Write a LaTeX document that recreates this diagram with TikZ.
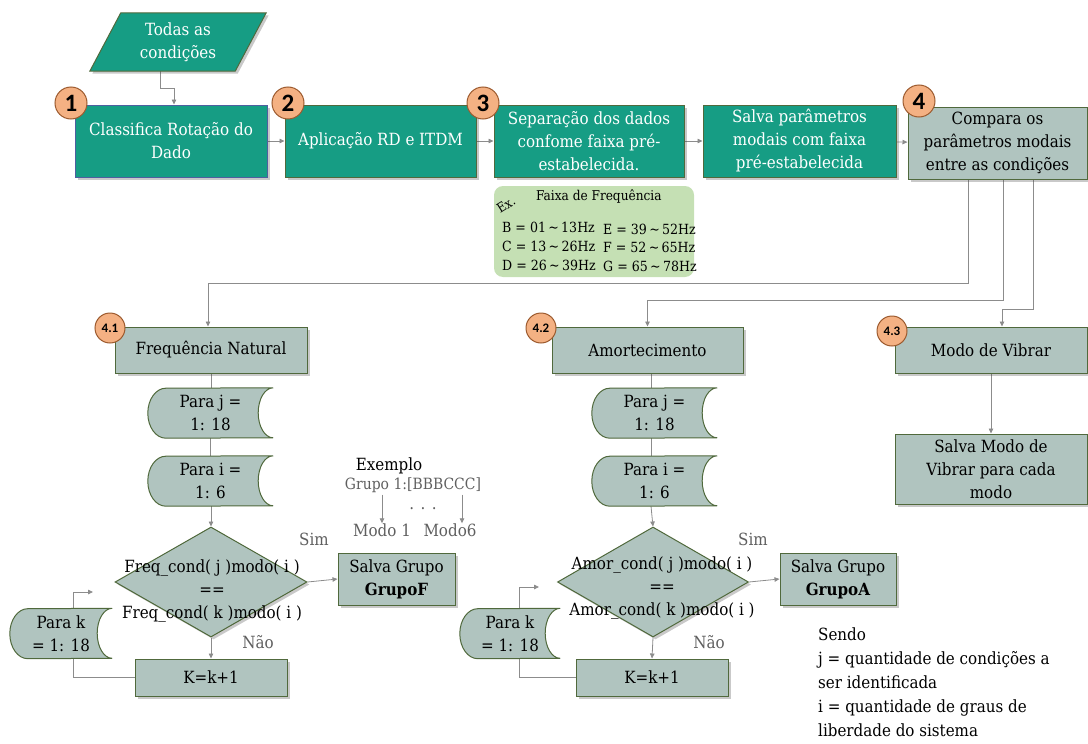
\documentclass[tikz,border=0pt]{standalone}
\usepackage{fontspec}
\setmainfont{DejaVu Serif Condensed}
\newfontfamily\numfont{Carlito}
\usetikzlibrary{shapes.geometric,arrows.meta,shadows}

\definecolor{tealfill}{HTML}{169D84}
\definecolor{grayfill}{HTML}{B0C4BF}
\definecolor{olivedge}{HTML}{50693C}
\definecolor{blueedge}{HTML}{4F5FA0}
\definecolor{orangefill}{HTML}{F4B183}
\definecolor{orangeedge}{HTML}{9C5A2E}
\definecolor{exgreen}{HTML}{C5E0B4}
\definecolor{linegray}{HTML}{8C8C8C}
\definecolor{labelgray}{HTML}{5F5F5F}

\newcommand\bodysize{\fontsize{16.8}{23}\selectfont}
\newcommand\smallsize{\fontsize{14}{16}\selectfont}
\newcommand\range[2]{#1\,\textasciitilde\,#2}

\pgfdeclarelayer{lines}
\pgfdeclarelayer{shapes}
\pgfsetlayers{lines,shapes,main}

% outline of a "stored data" symbol drawn around a named node
\newcommand\loopoutline[1]{%
  \path[loopfill] ([xshift=18pt]#1.south west)
    arc[start angle=270,end angle=90,x radius=18pt,y radius=25pt]
    -- (#1.north east)
    arc[start angle=90,end angle=270,x radius=15pt,y radius=25pt]
    -- cycle;}

\begin{document}
\begin{tikzpicture}[x=1pt,y=-1pt,
  conn/.style={draw=linegray, line width=0.8pt},
  arr/.style={conn, -{Triangle[length=5pt,width=4.5pt]}},
  boxshadow/.style={drop shadow={shadow xshift=2.5pt, shadow yshift=-2.5pt, opacity=0.3, fill=black!70}},
  tealbox/.style={rectangle, fill=tealfill, draw=olivedge, line width=1pt, text=white,
    align=center, inner sep=0pt, font=\bodysize, boxshadow},
  graybox/.style={rectangle, fill=grayfill, draw=olivedge, line width=1pt, text=black,
    align=center, inner sep=0pt, font=\bodysize, boxshadow},
  numball/.style={circle, fill=orangefill, draw=orangeedge, line width=1pt, minimum size=32pt,
    inner sep=0pt, text=black, font=\numfont\bfseries\fontsize{25}{25}\selectfont},
  subball/.style={numball, minimum size=30pt, font=\numfont\bfseries\fontsize{13}{13}\selectfont},
  loopnode/.style={rectangle, inner sep=0pt, minimum height=50pt, align=center, font=\bodysize},
  loopfill/.style={fill=grayfill, draw=olivedge, line width=1pt},
  decision/.style={diamond, fill=grayfill, draw=olivedge, line width=1pt, inner sep=0pt, boxshadow},
  plain/.style={font=\bodysize, align=center, inner sep=0pt},
  graytext/.style={plain, text=labelgray},
  extext/.style={font=\smallsize, inner sep=0pt, anchor=west},
]
\useasboundingbox (0,0) rectangle (1088,744);

% ---------- top row ----------
\node[plain, text=white, minimum width=176pt, minimum height=58pt] (in) at (178,42) {Todas as\\condições};
\begin{pgfonlayer}{shapes}
  \path[fill=tealfill, draw=olivedge, line width=1pt, boxshadow]
    (in.south west) -- ([xshift=31pt]in.north west) -- (in.north east)
    -- ([xshift=-31pt]in.south east) -- cycle;
\end{pgfonlayer}

\node[tealbox, draw=blueedge, minimum width=192pt, minimum height=72pt] (b1) at (171,141) {Classifica Rotação do\\Dado};
\node[tealbox, minimum width=191pt, minimum height=72pt] (b2) at (380.5,141) {Aplicação RD e ITDM};
\node[tealbox, minimum width=190pt, minimum height=72pt] (b3) at (589,141) {Separação dos dados\\confome faixa pré-\\estabelecida.};
\node[tealbox, minimum width=193pt, minimum height=72pt] (b4) at (799.5,141) {Salva parâmetros\\modais com faixa\\pré-estabelecida};
\node[graybox, minimum width=179pt, minimum height=72pt] (b5) at (997.5,143) {Compara os\\parâmetros modais\\entre as condições};

\node[numball] (n1) at (71,103) {1};
\node[numball] (n2) at (288,103) {2};
\node[numball] (n3) at (483,103) {3};
\node[numball] (n4) at (919,101) {4};

% frequency band example
\node[rectangle, rounded corners=9pt, fill=exgreen, minimum width=200pt, minimum height=91pt] (ex) at (594,231.5) {};
\node[font=\fontsize{13}{13}\selectfont, rotate=32, inner sep=0pt] (exl) at (506,205) {Ex.};
\node[extext, font=\fontsize{13.5}{15}\selectfont] (exh) at (536,197) {Faixa de Frequência};
\node[extext] (fb) at (502,227) {B = \range{01}{13Hz}};
\node[extext] (fc) at (502,246) {C = \range{13}{26Hz}};
\node[extext] (fd) at (502,265) {D = \range{26}{39Hz}};
\node[extext] (fe) at (603,229) {E = \range{39}{52Hz}};
\node[extext] (ff) at (603,247) {F = \range{52}{65Hz}};
\node[extext] (fg) at (603,266) {G = \range{65}{78Hz}};

% ---------- column 4.1 ----------
\node[graybox, minimum width=192pt, minimum height=46pt] (fn) at (211,350) {Frequência Natural};
\node[subball] (n41) at (110,328) {4.1};
\node[loopnode, minimum width=125pt] (pj1) at (210.5,413) {Para j =\\1: 18};
\node[loopnode, minimum width=125pt] (pi1) at (210.5,481) {Para i =\\1: 6};
\node[decision, minimum width=192pt, minimum height=110pt] (d1) at (211,582) {};
\node[plain] (d1t) at (212,591) {Freq\_cond( j )modo( i )\\==\\Freq\_cond( k )modo( i )};
\node[graybox, minimum width=117pt, minimum height=52pt] (sg1) at (396.5,579) {Salva Grupo\\\textbf{GrupoF}};
\node[graybox, minimum width=152pt, minimum height=37pt] (k1) at (211,677.5) {K=k+1};
\node[loopnode, minimum width=102pt] (pk1) at (61,633.5) {Para k\\= 1: 18};
\node[graytext] (sim1) at (314,539) {Sim};
\node[graytext] (nao1) at (258,642) {Não};

% grouping example
\node[plain] (exm) at (389,466) {Exemplo};
\node[graytext, font=\fontsize{15.5}{18}\selectfont] (grp) at (413,485) {Grupo 1:[BBBCCC]};
\node[graytext] (dots) at (423,509) {. . .};
\node[graytext] (m1) at (382,530) {Modo 1};
\node[graytext] (m6) at (450,530) {Modo6};

% ---------- column 4.2 ----------
\node[graybox, minimum width=191pt, minimum height=46pt] (am) at (647.5,350) {Amortecimento};
\node[subball] (n42) at (541,328) {4.2};
\node[loopnode, minimum width=125pt] (pj2) at (654.5,413) {Para j =\\1: 18};
\node[loopnode, minimum width=125pt] (pi2) at (654.5,481) {Para i =\\1: 6};
\node[decision, minimum width=191pt, minimum height=110pt] (d2) at (653,582) {};
\node[plain] (d2t) at (662,588) {Amor\_cond( j )modo( i )\\==\\Amor\_cond( k )modo( i )};
\node[graybox, minimum width=116pt, minimum height=52pt] (sg2) at (838,579) {Salva Grupo\\\textbf{GrupoA}};
\node[graybox, minimum width=152pt, minimum height=37pt] (k2) at (652,677.5) {K=k+1};
\node[loopnode, minimum width=100pt] (pk2) at (510,633.5) {Para k\\= 1: 18};
\node[graytext] (sim2) at (753,539) {Sim};
\node[graytext] (nao2) at (709,642) {Não};

% ---------- column 4.3 ----------
\node[graybox, minimum width=192pt, minimum height=46pt] (mv) at (991,350) {Modo de Vibrar};
\node[subball] (n43) at (892,331) {4.3};
\node[graybox, minimum width=192pt, minimum height=70pt] (sm) at (991,469) {Salva Modo de\\Vibrar para cada\\modo};

% legend
\node[plain, align=left, anchor=north west, font=\fontsize{16.8}{24}\selectfont] (sendo) at (818,628)
  {Sendo\\j = quantidade de condições a\\ser identificada\\i = quantidade de graus de\\liberdade do sistema};

% ---------- stored-data outlines ----------
\begin{pgfonlayer}{shapes}
  \loopoutline{pj1}\loopoutline{pi1}\loopoutline{pk1}
  \loopoutline{pj2}\loopoutline{pi2}\loopoutline{pk2}
\end{pgfonlayer}

% ---------- connectors ----------
\coordinate (lk1) at (93,592);
\coordinate (lk2) at (539,587);
\begin{pgfonlayer}{lines}
  \draw[arr] ([xshift=-18pt]in.south) -- ++(0,17) -| ([xshift=3pt]b1.north);
  \draw[arr] (b1) -- (b2);
  \draw[arr] (b2) -- (b3);
  \draw[arr] (b3) -- (b4);
  \draw[arr] (b4) -- (b5);
  \draw[arr] ([xshift=-29.5pt]b5.south) -- ++(0,104) -| ([xshift=-3pt]fn.north);
  \draw[arr] ([xshift=5.5pt]b5.south) -- ++(0,121) -| (am.north);
  \draw[arr] ([xshift=35.5pt]b5.south) -- ++(0,130) -| ([xshift=11pt]mv.north);

  \draw[conn] (fn.south) -- (fn.south |- pj1.north);
  \draw[conn] (pj1.north |- pj1.south) -- (pj1.north |- pi1.north);
  \draw[arr] (fn.south |- pi1.south) -- (d1.north);
  \draw[arr] (d1.south) -- (k1.north);
  \draw[arr] (d1.east) -- (sg1.west);
  \draw[arr] (k1.west) -- ++(-61,0) |- (lk1);

  \draw[conn] ([xshift=3.5pt]am.south) -- ([xshift=3.5pt]am.south |- pj2.north);
  \draw[conn] ([xshift=3.5pt]am.south |- pj2.south) -- ([xshift=3.5pt]am.south |- pi2.north);
  \draw[arr] ([xshift=3.5pt]am.south |- pi2.south) -- (d2.north);
  \draw[arr] (d2.south) -- (k2.north);
  \draw[arr] (d2.east) -- (sg2.west);
  \draw[arr] (k2.west) -- ++(-56,0) |- (lk2);

  \draw[arr] (mv.south) -- (sm.north);

  \draw[arr] ([yshift=-2pt]m1.north |- grp.south) -- (m1.north);
  \draw[arr] ([xshift=12pt,yshift=-2pt]m6.north |- grp.south) -- ([xshift=12pt]m6.north);
\end{pgfonlayer}
\end{tikzpicture}
\end{document}
